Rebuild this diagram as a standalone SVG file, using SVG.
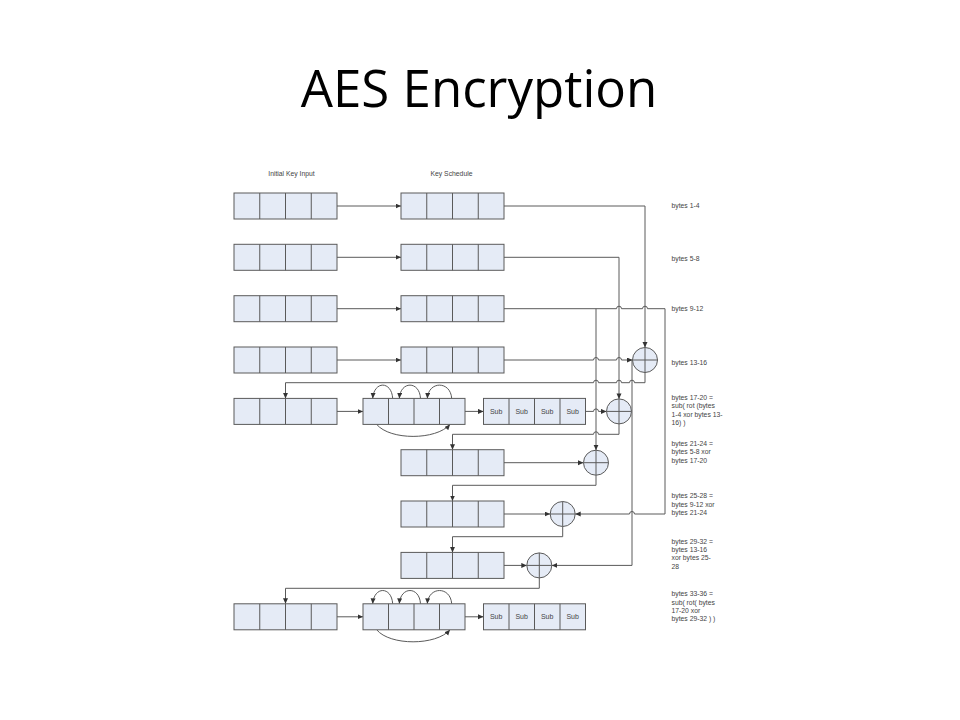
<svg xmlns="http://www.w3.org/2000/svg" width="960" height="720" viewBox="0 0 960 720">
<style>
.bx{fill:#E5EBF6;stroke:#5a5a5a;stroke-width:1}
.dv{stroke:#5a5a5a;stroke-width:1}
.ln{fill:none;stroke:#5a5a5a;stroke-width:1}
.ar{marker-end:url(#ah)}
.lb{font-family:"Liberation Sans",Arial,sans-serif;font-size:6.8px;fill:#444}
.sb{font-family:"Liberation Sans",Arial,sans-serif;font-size:7px;fill:#444;text-anchor:middle}
.ttl{font-family:"Open Sans","Noto Sans",sans-serif;font-size:51px;fill:#000;text-anchor:middle}
</style>
<defs>
<marker id="ah" markerWidth="6" markerHeight="6" refX="5.5" refY="2.5" orient="auto" markerUnits="userSpaceOnUse">
<path d="M0,0 L5.5,2.5 L0,5 z" fill="#333"/>
</marker>
<g id="quad">
<rect class="bx" x="0" y="0" width="103" height="26"/>
<line class="dv" x1="25.75" y1="0" x2="25.75" y2="26"/>
<line class="dv" x1="51.5" y1="0" x2="51.5" y2="26"/>
<line class="dv" x1="77.25" y1="0" x2="77.25" y2="26"/>
</g>
<g id="quad2">
<rect class="bx" x="0" y="0" width="102" height="26"/>
<line class="dv" x1="25.5" y1="0" x2="25.5" y2="26"/>
<line class="dv" x1="51" y1="0" x2="51" y2="26"/>
<line class="dv" x1="76.5" y1="0" x2="76.5" y2="26"/>
</g>
<g id="xor">
<circle class="bx" cx="0" cy="0" r="12.5"/>
<line class="dv" x1="-12.5" y1="0" x2="12.5" y2="0"/>
<line class="dv" x1="0" y1="-12.5" x2="0" y2="12.5"/>
</g>
</defs>
<rect width="960" height="720" fill="#fff"/>
<text class="ttl" x="479" y="106.5">AES Encryption</text>
<text class="lb" x="291.5" y="175.5" text-anchor="middle">Initial Key Input</text>
<text class="lb" x="451.5" y="175.5" text-anchor="middle">Key Schedule</text>

<g id="connectors">
<path class="ln ar" d="M337 206 H401"/>
<path class="ln ar" d="M337 257.3 H401"/>
<path class="ln ar" d="M337 308.7 H401"/>
<path class="ln ar" d="M337 360 H401"/>
<path class="ln ar" d="M504 206 H645 V347.5"/>
<path class="ln ar" d="M504 257.3 H619 V398.9"/>
<path class="ln ar" d="M504 308.7 H616.5 A2.5 2.5 0 0 1 621.5 308.7 H642.5 A2.5 2.5 0 0 1 647.5 308.7 H665 V514 H634.5 A2.5 2.5 0 0 0 629.5 514 H575.2"/>
<path class="ln ar" d="M596 308.7 V450.2"/>
<path class="ln ar" d="M504 360 H593.5 A2.5 2.5 0 0 1 598.5 360 H616.5 A2.5 2.5 0 0 1 621.5 360 H632.5"/>
<path class="ln ar" d="M632 360 V565.4 H551.8"/>
<path class="ln ar" d="M645 372.5 V382.7 H634.5 A2.5 2.5 0 0 0 629.5 382.7 H621.5 A2.5 2.5 0 0 0 616.5 382.7 H598.5 A2.5 2.5 0 0 0 593.5 382.7 H285.5 V398.4"/>
<path class="ln ar" d="M337 411.4 H363"/>
<path class="ln ar" d="M465 411.4 H483.5"/>
<path class="ln ar" d="M585.5 411.4 H593.5 A2.5 2.5 0 0 1 598.5 411.4 H606.5"/>
<path class="ln ar" d="M619 423.9 V434.3 H598.5 A2.5 2.5 0 0 0 593.5 434.3 H452.5 V449.7"/>
<path class="ln ar" d="M504 462.7 H583.5"/>
<path class="ln ar" d="M596 475.2 V485.3 H452.5 V501"/>
<path class="ln ar" d="M504 514 H550.2"/>
<path class="ln ar" d="M562.7 526.5 V536.7 H452.5 V552.4"/>
<path class="ln ar" d="M504 565.4 H526.8"/>
<path class="ln ar" d="M539.3 577.9 V588.3 H285.5 V603.8"/>
<path class="ln ar" d="M337 616.8 H363"/>
<path class="ln ar" d="M465 616.8 H483.5"/>
<!-- rotation arcs row 5 -->
<path class="ln ar" d="M392.7 398.4 C391.5 380.7 374 380.7 372.7 398.4"/>
<path class="ln ar" d="M420.5 398.4 C419.5 380.7 400.5 380.7 399.3 398.4"/>
<path class="ln ar" d="M451.7 398.4 C450.5 380.7 428.5 380.7 427.3 398.4"/>
<path class="ln ar" d="M376.7 424.4 C390 440.4 436 440.4 450 424.4"/>
<!-- rotation arcs row 9 -->
<path class="ln ar" d="M392.7 603.8 C391.5 586.1 374 586.1 372.7 603.8"/>
<path class="ln ar" d="M420.5 603.8 C419.5 586.1 400.5 586.1 399.3 603.8"/>
<path class="ln ar" d="M451.7 603.8 C450.5 586.1 428.5 586.1 427.3 603.8"/>
<path class="ln ar" d="M376.7 629.8 C390 645.8 436 645.8 450 629.8"/>
</g>

<g id="init1"><use href="#quad" x="234" y="193"/></g>
<g id="init2"><use href="#quad" x="234" y="244.3"/></g>
<g id="init3"><use href="#quad" x="234" y="295.7"/></g>
<g id="init4"><use href="#quad" x="234" y="347"/></g>
<g id="ks1"><use href="#quad" x="401" y="193"/></g>
<g id="ks2"><use href="#quad" x="401" y="244.3"/></g>
<g id="ks3"><use href="#quad" x="401" y="295.7"/></g>
<g id="ks4"><use href="#quad" x="401" y="347"/></g>
<g id="w5"><use href="#quad" x="234" y="398.4"/></g>
<g id="rot5"><use href="#quad2" x="363" y="398.4"/></g>
<g id="sub5"><use href="#quad2" x="483.5" y="398.4"/>
<text class="sb" x="496.2" y="414">Sub</text><text class="sb" x="521.7" y="414">Sub</text><text class="sb" x="547.2" y="414">Sub</text><text class="sb" x="572.7" y="414">Sub</text></g>
<g id="ks6"><use href="#quad" x="401" y="449.7"/></g>
<g id="ks7"><use href="#quad" x="401" y="501"/></g>
<g id="ks8"><use href="#quad" x="401" y="552.4"/></g>
<g id="w9"><use href="#quad" x="234" y="603.8"/></g>
<g id="rot9"><use href="#quad2" x="363" y="603.8"/></g>
<g id="sub9"><use href="#quad2" x="483.5" y="603.8"/>
<text class="sb" x="496.2" y="619.4">Sub</text><text class="sb" x="521.7" y="619.4">Sub</text><text class="sb" x="547.2" y="619.4">Sub</text><text class="sb" x="572.7" y="619.4">Sub</text></g>
<g id="xor1"><use href="#xor" x="645" y="360"/></g>
<g id="xor2"><use href="#xor" x="619" y="411.4"/></g>
<g id="xor3"><use href="#xor" x="596" y="462.7"/></g>
<g id="xor4"><use href="#xor" x="562.7" y="514"/></g>
<g id="xor5"><use href="#xor" x="539.3" y="565.4"/></g>

<g id="labels" class="lb">
<text x="671.5" y="207.5">bytes 1-4</text>
<text x="671.5" y="260.8">bytes 5-8</text>
<text x="671.5" y="310.8">bytes 9-12</text>
<text x="671.5" y="365">bytes 13-16</text>
<text x="671.5" y="399.8">bytes 17-20 =</text>
<text x="671.5" y="408.2">sub( rot (bytes</text>
<text x="671.5" y="416.6">1-4 xor bytes 13-</text>
<text x="671.5" y="425">16) )</text>
<text x="671.5" y="445.8">bytes 21-24 =</text>
<text x="671.5" y="454.2">bytes 5-8 xor</text>
<text x="671.5" y="462.6">bytes 17-20</text>
<text x="671.5" y="498.2">bytes 25-28 =</text>
<text x="671.5" y="506.6">bytes 9-12 xor</text>
<text x="671.5" y="515">bytes 21-24</text>
<text x="671.5" y="543.5">bytes 29-32 =</text>
<text x="671.5" y="551.9">bytes 13-16</text>
<text x="671.5" y="560.3">xor bytes 25-</text>
<text x="671.5" y="568.7">28</text>
<text x="671.5" y="596.2">bytes 33-36 =</text>
<text x="671.5" y="604.6">sub( rot( bytes</text>
<text x="671.5" y="613">17-20 xor</text>
<text x="671.5" y="621.4">bytes 29-32 ) )</text>
</g>
</svg>
